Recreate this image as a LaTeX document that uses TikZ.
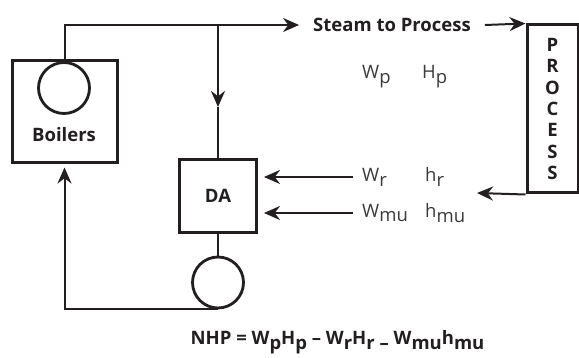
\documentclass[tikz,border=0pt]{standalone}
\usepackage{fontspec}
\setmainfont{Open Sans}
\usepackage{tikz}
\usetikzlibrary{arrows.meta,positioning}
\definecolor{ink}{HTML}{231F20}
\definecolor{labelgray}{HTML}{3A3A3A}
\newcommand{\lowsub}[1]{\raisebox{-0.5ex}{#1}}

\begin{document}
\begin{tikzpicture}[
  x=1pt, y=-1pt,
  box/.style={rectangle, draw=ink, line width=3pt, inner sep=0pt,
    font=\fontsize{18.5}{21.3}\selectfont\bfseries, text=ink, align=center},
  wheel/.style={circle, draw=ink, line width=2.8pt, inner sep=0pt, minimum size=51pt},
  title/.style={font=\fontsize{18.5}{21}\selectfont\bfseries, text=ink, inner sep=0pt},
  var/.style={font=\fontsize{18.5}{21}\selectfont, text=labelgray,
    inner xsep=9pt, inner ysep=0pt, anchor=west},
  pipe/.style={draw=ink, line width=2pt},
  arrow/.style={pipe, -{Stealth[length=16pt, width=14pt]}}
]
\useasboundingbox (0,0) rectangle (579,358);

% Boilers
\node[box, minimum width=105pt, minimum height=102pt] (boilers) at (64.5,112) {};
\node[wheel] (drum) at (64,88) {};
\node[title] (blabel) at (64,135) {Boilers};

% Deaerator and pump
\node[box, minimum width=77pt, minimum height=73pt] (da) at (218,196) {DA};
\node[wheel] (pump) at (218,282.5) {};

% Process
\node[box, minimum width=51pt, minimum height=168pt] (process) at (552.5,109) {P\\R\\O\\C\\E\\S\\S};

% Steam header
\node[title, inner xsep=14pt] (steam) at (392,25) {Steam to Process};
\coordinate (tee) at (steam.west -| da.north);
\coordinate (mid) at (218,107);
\coordinate (back) at (477,193);

\draw[arrow] (boilers.north) |- (steam.west);
\draw[arrow] (steam.east) -- (process.north west);
\draw[arrow] (tee) -- (mid);
\draw[pipe] (mid) -- (da.north);
\draw[arrow] (process.south west) -- (back);

% Feedwater loop
\draw[pipe] (da.south) -- (pump.north);
\draw[arrow, shorten >=3pt] (pump.south) -| (boilers.south);

% Flows and enthalpies
\node[var] (wp) at (353,77) {W\lowsub{p}};
\node[var] (hp) at (413,77) {H\lowsub{p}};
\node[var] (wr) at (353,177) {W\lowsub{r}};
\node[var] (hr) at (416,177) {h\lowsub{r}};
\node[var] (wmu) at (353,213) {W\lowsub{mu}};
\node[var] (hmu) at (416,213) {h\lowsub{mu}};

\draw[arrow, shorten >=6pt] (wr.west) -- (wr.west -| da.east);
\draw[arrow, shorten >=6pt] (wmu.west) -- (wmu.west -| da.east);

% Balance
\node[title] (nhp) at (337.5,342) {NHP = W\lowsub{p}H\lowsub{p} – W\lowsub{r}H\lowsub{r} \raisebox{-0.5ex}{–} W\lowsub{mu}h\lowsub{mu}};

\end{tikzpicture}
\end{document}
